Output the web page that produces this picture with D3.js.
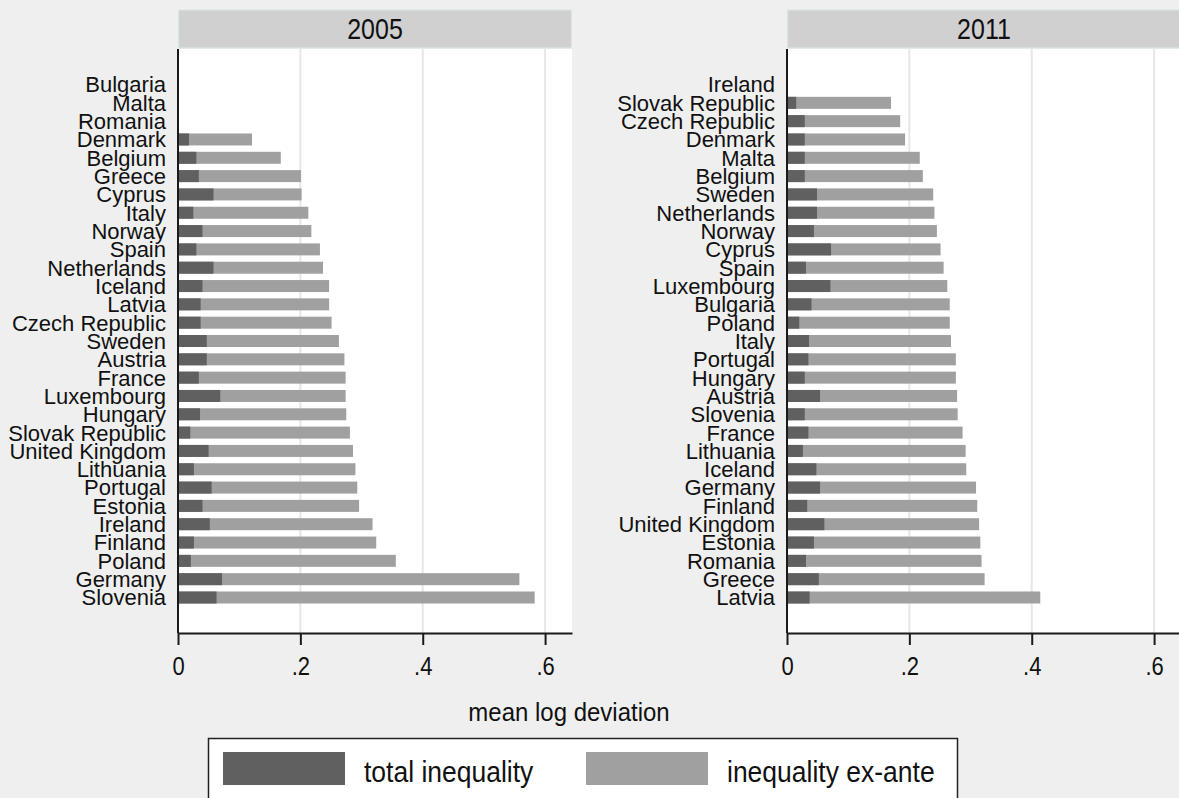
<!DOCTYPE html>
<html>
<head>
<meta charset="utf-8">
<script src="https://cdn.jsdelivr.net/npm/d3@7/dist/d3.min.js"></script>
<style>
  html, body { margin: 0; padding: 0; background: #efefef; }
  svg { display: block; }
  text { font-family: "Liberation Sans", Arial, sans-serif; fill: #111; }
</style>
</head>
<body>
<svg id="chart" width="1179" height="798"></svg>
<script>
// Panel 2005: countries ordered from top to bottom
const countries2005 = ["Bulgaria", "Malta", "Romania", "Denmark", "Belgium", "Greece", "Cyprus", "Italy",
  "Norway", "Spain", "Netherlands", "Iceland", "Latvia", "Czech Republic", "Sweden", "Austria", "France",
  "Luxembourg", "Hungary", "Slovak Republic", "United Kingdom", "Lithuania", "Portugal", "Estonia",
  "Ireland", "Finland", "Poland", "Germany", "Slovenia"];
const total2005 = [null, null, null, 0.018, 0.030, 0.034, 0.058, 0.025, 0.040, 0.030, 0.058, 0.040, 0.037,
  0.037, 0.047, 0.047, 0.034, 0.069, 0.036, 0.020, 0.050, 0.026, 0.055, 0.040, 0.052, 0.026, 0.021,
  0.072, 0.063];
const exante2005 = [null, null, null, 0.121, 0.168, 0.201, 0.202, 0.213, 0.218, 0.232, 0.237, 0.247, 0.247,
  0.251, 0.263, 0.272, 0.274, 0.274, 0.275, 0.281, 0.286, 0.290, 0.293, 0.296, 0.318, 0.324, 0.356,
  0.558, 0.583];

// Panel 2011
const countries2011 = ["Ireland", "Slovak Republic", "Czech Republic", "Denmark", "Malta", "Belgium",
  "Sweden", "Netherlands", "Norway", "Cyprus", "Spain", "Luxembourg", "Bulgaria", "Poland", "Italy",
  "Portugal", "Hungary", "Austria", "Slovenia", "France", "Lithuania", "Iceland", "Germany", "Finland",
  "United Kingdom", "Estonia", "Romania", "Greece", "Latvia"];
const total2011 = [null, 0.015, 0.029, 0.029, 0.029, 0.029, 0.049, 0.049, 0.044, 0.072, 0.031, 0.071, 0.040,
  0.020, 0.036, 0.035, 0.029, 0.054, 0.029, 0.035, 0.026, 0.048, 0.054, 0.033, 0.061, 0.044, 0.031,
  0.052, 0.037];
const exante2011 = [null, 0.170, 0.185, 0.193, 0.217, 0.222, 0.239, 0.241, 0.245, 0.251, 0.256, 0.262, 0.266,
  0.266, 0.268, 0.276, 0.276, 0.278, 0.279, 0.287, 0.292, 0.293, 0.309, 0.311, 0.314, 0.316, 0.318,
  0.323, 0.414];

const xTicks = [0, 0.2, 0.4, 0.6];
const xTickLabels = ["0", ".2", ".4", ".6"];
const panelTitles = ["2005", "2011"];
const seriesNames = ["total inequality", "inequality ex-ante"];
const seriesColors = ["#606060", "#a0a0a0"];
const axisTitle = "mean log deviation";

const svg = d3.select("#chart");

const panels = [
  { title: panelTitles[0], countries: countries2005, total: total2005, exante: exante2005, left: 178 },
  { title: panelTitles[1], countries: countries2011, total: total2011, exante: exante2011, left: 787 }
];

const plotWidth = 394;
const plotTop = 49;
const plotBottom = 633;
const headerTop = 10;

// vertically stretched text, as the exported graph fonts are slightly tall
function stretchedText(g, x, y, str, size, sy, anchor) {
  return g.append("text")
    .attr("transform", `translate(${x},${y}) scale(1,${sy})`)
    .attr("text-anchor", anchor)
    .style("font-size", size + "px")
    .text(str);
}

panels.forEach(p => {
  const g = svg.append("g");
  const x = d3.scaleLinear().domain([0, 0.644]).range([p.left, p.left + plotWidth]);
  const y = d3.scaleBand().domain(p.countries).range([plotTop, plotBottom])
    .paddingInner(0.345).paddingOuter(1.61);

  // header strip
  g.append("rect")
    .attr("x", p.left + 0.5).attr("y", headerTop)
    .attr("width", plotWidth - 1).attr("height", plotTop - headerTop - 1)
    .attr("fill", "#d0d0d0").attr("stroke", "#dbe6ea").attr("stroke-width", 1.2);
  stretchedText(g, p.left + plotWidth / 2, 39, p.title, 25, 1.15, "middle");

  // plot region
  g.append("rect")
    .attr("x", p.left).attr("y", plotTop)
    .attr("width", plotWidth).attr("height", plotBottom - plotTop)
    .attr("fill", "#ffffff");

  // grid lines
  g.selectAll("line.grid").data(xTicks.filter(t => t > 0)).join("line")
    .attr("class", "grid")
    .attr("x1", d => x(d)).attr("x2", d => x(d))
    .attr("y1", plotTop).attr("y2", plotBottom)
    .attr("stroke", "#e6e6e6").attr("stroke-width", 2);

  const rows = p.countries.map((c, i) => ({ c, total: p.total[i], exante: p.exante[i] }));

  // inequality ex-ante bars
  g.selectAll("rect.exante").data(rows.filter(d => d.exante != null)).join("rect")
    .attr("class", "exante")
    .attr("x", x(0)).attr("y", d => y(d.c))
    .attr("width", d => x(d.exante) - x(0)).attr("height", y.bandwidth())
    .attr("fill", seriesColors[1]);

  // total inequality bars
  g.selectAll("rect.total").data(rows.filter(d => d.total != null)).join("rect")
    .attr("class", "total")
    .attr("x", x(0)).attr("y", d => y(d.c))
    .attr("width", d => x(d.total) - x(0)).attr("height", y.bandwidth())
    .attr("fill", seriesColors[0]);

  // category labels
  g.selectAll("text.cat").data(p.countries).join("text")
    .attr("class", "cat")
    .attr("x", p.left - 12)
    .attr("y", d => y(d) + y.bandwidth() / 2)
    .attr("dy", "0.36em")
    .attr("text-anchor", "end")
    .style("font-size", "22px")
    .text(d => d);

  // y axis line
  g.append("line")
    .attr("x1", p.left).attr("x2", p.left)
    .attr("y1", plotTop).attr("y2", plotBottom)
    .attr("stroke", "#1a1a1a").attr("stroke-width", 2);

  // x axis
  const axis = d3.axisBottom(x).tickValues(xTicks)
    .tickFormat((d, i) => xTickLabels[i]).tickSize(12).tickSizeOuter(0);
  const ax = g.append("g").attr("transform", `translate(0,${plotBottom})`).call(axis);
  ax.select(".domain").attr("stroke", "#1a1a1a").attr("stroke-width", 2);
  ax.selectAll(".tick line").attr("stroke", "#1a1a1a").attr("stroke-width", 2);
  ax.selectAll(".tick text").remove();
  ax.selectAll(".tick").each(function (d, i) {
    stretchedText(d3.select(this), 0, 42, xTickLabels[i], 22, 1.13, "middle");
  });
});

// shared axis title
stretchedText(svg, 569, 721, axisTitle, 24, 1.1, "middle");

// legend
const legend = svg.append("g");
legend.append("rect")
  .attr("x", 208.5).attr("y", 738.5).attr("width", 749).attr("height", 80)
  .attr("fill", "#ffffff").attr("stroke", "#222").attr("stroke-width", 1.5);
const legendItems = [
  { name: seriesNames[0], color: seriesColors[0], sx: 223, tx: 364 },
  { name: seriesNames[1], color: seriesColors[1], sx: 586, tx: 727 }
];
legendItems.forEach(it => {
  legend.append("rect")
    .attr("x", it.sx).attr("y", 752).attr("width", 122).attr("height", 33)
    .attr("fill", it.color);
  stretchedText(legend, it.tx, 782, it.name, 26.5, 1.12, "start");
});
</script>
</body>
</html>
